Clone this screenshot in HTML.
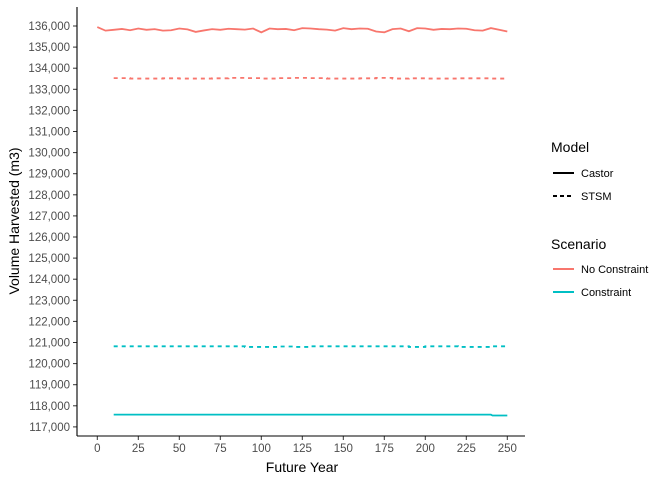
<!DOCTYPE html>
<html><head><meta charset="utf-8"><style>
body{margin:0;background:#fff;font-family:"Liberation Sans",sans-serif}
svg text{font-family:"Liberation Sans",sans-serif}
</style></head><body>
<svg id="chart" width="672" height="480">
<g id="grid"></g><g id="marks"></g>
<line x1="77" y1="7" x2="77" y2="436" stroke="#000" stroke-width="1.1"/>
<line x1="77" y1="436" x2="525" y2="436" stroke="#000" stroke-width="1.1"/>
<text x="302" y="472" font-size="14" text-anchor="middle">Future Year</text>
<text transform="translate(19,221) rotate(-90)" font-size="14" text-anchor="middle">Volume Harvested (m3)</text>
<g font-size="11">
<text x="551" y="152" font-size="14">Model</text>
<line x1="553" y1="173" x2="574" y2="173" stroke="#000" stroke-width="2"/>
<text x="581" y="177">Castor</text>
<line x1="553" y1="196" x2="574" y2="196" stroke="#000" stroke-width="2" stroke-dasharray="4,3"/>
<text x="581" y="200">STSM</text>
<text x="551" y="249" font-size="14">Scenario</text>
<line x1="553" y1="269" x2="574" y2="269" stroke="#F8766D" stroke-width="2"/>
<text x="581" y="273">No Constraint</text>
<line x1="553" y1="292" x2="574" y2="292" stroke="#00BFC4" stroke-width="2"/>
<text x="581" y="296">Constraint</text>
</g>
</svg>
<script>
const yTicks=[117000,118000,119000,120000,121000,122000,123000,124000,125000,126000,127000,128000,129000,130000,131000,132000,133000,134000,135000,136000];
const xTicks=[0,25,50,75,100,125,150,175,200,225,250];
const castorYears=[0,5,10,15,20,25,30,35,40,45,50,55,60,65,70,75,80,85,90,95,100,105,110,115,120,125,130,135,140,145,150,155,160,165,170,175,180,185,190,195,200,205,210,215,220,225,230,235,240,245,250];
const castorNoConstraint=[135950,135780,135820,135860,135800,135880,135820,135850,135780,135800,135880,135840,135720,135790,135850,135820,135870,135850,135830,135880,135700,135880,135850,135860,135800,135900,135880,135850,135830,135780,135900,135850,135880,135870,135740,135700,135850,135880,135750,135900,135880,135820,135860,135850,135880,135870,135800,135780,135900,135820,135740];
const castorConstraintYears=[10,240,241,250];
const castorConstraint=[117580,117580,117540,117540];
const stsmYears=[10,20,30,40,50,60,70,80,90,100,110,120,130,140,150,160,170,180,190,200,210,220,230,240,250];
const stsmNoConstraint=[133530,133510,133510,133520,133510,133510,133520,133540,133530,133510,133530,133540,133530,133510,133510,133520,133540,133510,133520,133510,133510,133520,133520,133510,133510];
const stsmConstraint=[120820,120820,120820,120820,120820,120820,120820,120820,120790,120790,120810,120790,120820,120820,120820,120820,120820,120820,120790,120820,120820,120790,120790,120820,120820];
const X=v=>97.3+(v/250)*410;
const Y=v=>26+(136000-v)*0.0211;
const NS="http://www.w3.org/2000/svg";
const svg=document.getElementById('chart');
function mk(tag,attrs,parent){const e=document.createElementNS(NS,tag);for(const k in attrs)e.setAttribute(k,attrs[k]);(parent||svg).appendChild(e);return e;}
const g=document.getElementById('grid');
yTicks.forEach(v=>{
 const t=mk('line',{x1:73,x2:77,y1:Y(v),y2:Y(v),stroke:'#333'},g);
 
 
 const l=mk('text',{x:70,y:Y(v)+4,'text-anchor':'end','font-size':11.5,fill:'#4d4d4d'},g);
 l.textContent=v.toLocaleString('en-US');
 
 
});
xTicks.forEach(v=>{
 const t=mk('line',{x1:X(v),x2:X(v),y1:436,y2:440,stroke:'#333'},g);
 
 
 const l=mk('text',{x:X(v),y:452,'text-anchor':'middle','font-size':11.5,fill:'#4d4d4d'},g);
 l.textContent=v;
 
 
});
const m=document.getElementById('marks');
function line(xs,ys,color,dash,name,step){
 let pts=[];
 xs.forEach((x,i)=>{if(step&&i>0)pts.push(X(x)+','+Y(ys[i-1]));pts.push(X(x)+','+Y(ys[i]));});
 const p=mk('polyline',{points:pts.join(' '),fill:'none',stroke:color,'stroke-width':1.8},m);
 if(dash)p.setAttribute('stroke-dasharray',dash);
 
 
}
line(castorYears,castorNoConstraint,'#F8766D',null,'castor-no-constraint-line',false);
line(castorConstraintYears,castorConstraint,'#00BFC4',null,'castor-constraint-line',false);
line(stsmYears,stsmNoConstraint,'#F8766D','4,4','stsm-no-constraint-line',true);
line(stsmYears,stsmConstraint,'#00BFC4','4,4','stsm-constraint-line',true);
</script>
</body></html>
